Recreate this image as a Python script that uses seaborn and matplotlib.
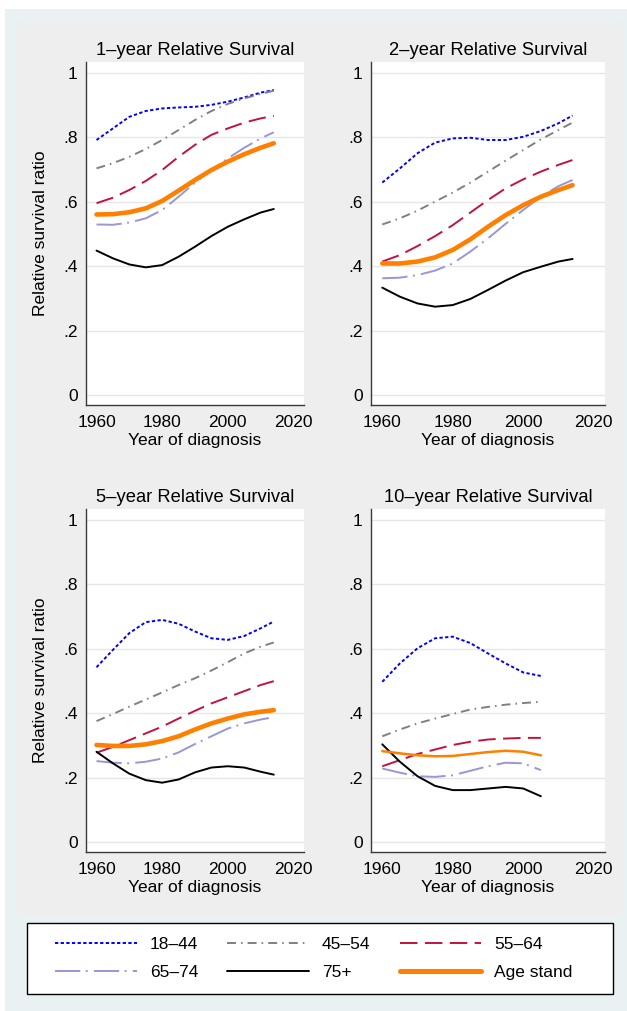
import matplotlib
matplotlib.use("Agg")
import numpy as np
import pandas as pd
import matplotlib.pyplot as plt
import seaborn as sns
from matplotlib.lines import Line2D
from matplotlib.patches import Rectangle

# ---------------- data ----------------
years_long = [1960, 1965, 1970, 1975, 1980, 1985, 1990, 1995, 2000, 2005, 2010, 2014]
years_short = [1960, 1965, 1970, 1975, 1980, 1985, 1990, 1995, 2000, 2005]

groups = ["18–44", "45–54", "55–64", "65–74", "75+", "Age stand"]
titles = ["1–year Relative Survival", "2–year Relative Survival",
          "5–year Relative Survival", "10–year Relative Survival"]
y_ticks = [0, 0.2, 0.4, 0.6, 0.8, 1.0]
y_tick_labels = ["0", ".2", ".4", ".6", ".8", "1"]
x_ticks = [1960, 1980, 2000, 2020]
x_tick_labels = ["1960", "1980", "2000", "2020"]

# 1-year
rs1_18_44 = [0.791, 0.827, 0.863, 0.881, 0.889, 0.892, 0.894, 0.900, 0.910, 0.923, 0.938, 0.946]
rs1_45_54 = [0.703, 0.719, 0.739, 0.763, 0.791, 0.822, 0.853, 0.881, 0.903, 0.920, 0.934, 0.944]
rs1_55_64 = [0.595, 0.612, 0.636, 0.664, 0.698, 0.739, 0.776, 0.807, 0.827, 0.845, 0.858, 0.866]
rs1_65_74 = [0.529, 0.528, 0.535, 0.548, 0.574, 0.615, 0.659, 0.698, 0.734, 0.767, 0.796, 0.815]
rs1_75p = [0.448, 0.424, 0.405, 0.396, 0.403, 0.429, 0.460, 0.493, 0.522, 0.545, 0.566, 0.577]
rs1_std = [0.560, 0.561, 0.567, 0.579, 0.602, 0.634, 0.667, 0.698, 0.724, 0.747, 0.767, 0.781]

# 2-year
rs2_18_44 = [0.659, 0.703, 0.750, 0.783, 0.796, 0.798, 0.791, 0.791, 0.801, 0.819, 0.843, 0.867]
rs2_45_54 = [0.529, 0.548, 0.572, 0.600, 0.628, 0.659, 0.693, 0.727, 0.760, 0.793, 0.822, 0.845]
rs2_55_64 = [0.414, 0.434, 0.462, 0.493, 0.527, 0.566, 0.605, 0.641, 0.669, 0.693, 0.714, 0.729]
rs2_65_74 = [0.362, 0.364, 0.372, 0.386, 0.408, 0.445, 0.486, 0.531, 0.574, 0.615, 0.648, 0.667]
rs2_75p = [0.333, 0.305, 0.284, 0.274, 0.279, 0.298, 0.326, 0.355, 0.381, 0.398, 0.414, 0.422]
rs2_std = [0.408, 0.408, 0.414, 0.427, 0.450, 0.483, 0.522, 0.558, 0.589, 0.615, 0.636, 0.651]

# 5-year
rs5_18_44 = [0.542, 0.596, 0.648, 0.682, 0.689, 0.677, 0.653, 0.632, 0.627, 0.639, 0.663, 0.684]
rs5_45_54 = [0.375, 0.397, 0.420, 0.442, 0.464, 0.487, 0.508, 0.532, 0.558, 0.585, 0.606, 0.619]
rs5_55_64 = [0.277, 0.295, 0.316, 0.337, 0.358, 0.383, 0.407, 0.430, 0.449, 0.468, 0.487, 0.499]
rs5_65_74 = [0.251, 0.246, 0.244, 0.249, 0.259, 0.278, 0.304, 0.328, 0.352, 0.368, 0.380, 0.387]
rs5_75p = [0.280, 0.244, 0.212, 0.192, 0.184, 0.194, 0.216, 0.231, 0.235, 0.231, 0.218, 0.209]
rs5_std = [0.301, 0.298, 0.298, 0.303, 0.313, 0.328, 0.349, 0.368, 0.383, 0.396, 0.404, 0.409]

# 10-year
rs10_18_44 = [0.497, 0.554, 0.601, 0.632, 0.637, 0.617, 0.585, 0.554, 0.526, 0.515]
rs10_45_54 = [0.328, 0.349, 0.368, 0.383, 0.397, 0.411, 0.419, 0.426, 0.431, 0.435]
rs10_55_64 = [0.235, 0.254, 0.273, 0.287, 0.301, 0.311, 0.318, 0.321, 0.323, 0.323]
rs10_65_74 = [0.228, 0.215, 0.204, 0.202, 0.207, 0.221, 0.235, 0.246, 0.244, 0.223]
rs10_75p = [0.303, 0.249, 0.204, 0.174, 0.161, 0.161, 0.166, 0.171, 0.166, 0.142]
rs10_std = [0.282, 0.275, 0.269, 0.266, 0.267, 0.273, 0.279, 0.283, 0.280, 0.269]

panel_series = [
    (years_long, [rs1_18_44, rs1_45_54, rs1_55_64, rs1_65_74, rs1_75p, rs1_std]),
    (years_long, [rs2_18_44, rs2_45_54, rs2_55_64, rs2_65_74, rs2_75p, rs2_std]),
    (years_long, [rs5_18_44, rs5_45_54, rs5_55_64, rs5_65_74, rs5_75p, rs5_std]),
    (years_short, [rs10_18_44, rs10_45_54, rs10_55_64, rs10_65_74, rs10_75p, rs10_std]),
]

# ---------------- styles ----------------
line_styles = {
    "18–44": dict(color="#0000FF", linestyle=(0, (1.7, 1.2)), lw=1.4),
    "45–54": dict(color="#808080", linestyle=(0, (4.6, 2.6, 0.8, 2.6)), lw=1.4),
    "55–64": dict(color="#C4123C", linestyle=(0, (9.0, 3.8)), lw=1.4),
    "65–74": dict(color="#9896D6", linestyle=(0, (13.0, 2.8, 1.0, 3.2)), lw=1.4),
    "75+": dict(color="#000000", linestyle="-", lw=1.4),
    "Age stand": dict(color="#FF8000", linestyle="-", lw=3.3),
}

sns.set_theme(style="white")
plt.rcParams["font.family"] = ["Liberation Sans", "DejaVu Sans"]
plt.rcParams["text.color"] = "black"
plt.rcParams["axes.labelcolor"] = "black"

FS = 12.5
W, H = 627, 1011
fig = plt.figure(figsize=(W / 100, H / 100), dpi=100, facecolor="white")

def frect(x0, y0, x1, y1, **kw):
    r = Rectangle((x0 / W, 1 - y1 / H), (x1 - x0) / W, (y1 - y0) / H,
                  transform=fig.transFigure, **kw)
    fig.add_artist(r)
    return r

frect(5, 9, 627, 1011, facecolor="#E9F1F3", edgecolor="none", zorder=-20)
frect(18, 22, 622, 915, facecolor="#EEEEEE", edgecolor="none", zorder=-15)
frect(27, 923, 613, 994, facecolor="white", edgecolor="black", lw=1.0, zorder=-10)

panel_px = [(86, 62, 304, 405), (371, 62, 605, 405),
            (86, 509, 304, 852), (371, 509, 605, 852)]

axes = []
for i, (x0, y0, x1, y1) in enumerate(panel_px):
    ax = fig.add_axes([x0 / W, 1 - y1 / H, (x1 - x0) / W, (y1 - y0) / H])
    axes.append(ax)
    yrs, series = panel_series[i]
    for g, vals in zip(groups, series):
        st = dict(line_styles[g])
        if i == 3 and g == "Age stand":
            st["lw"] = 1.8
        df = pd.DataFrame({"Year": yrs, "RS": vals})
        sns.lineplot(data=df, x="Year", y="RS", ax=ax, sort=False,
                     estimator=None, legend=False, **st)
    ax.set_facecolor("white")
    ax.set_xlim(1956.8, 2023.2)
    ax.set_ylim(-0.031, 1.033)
    ax.set_yticks(y_ticks)
    ax.set_yticklabels(y_tick_labels)
    ax.set_xticks(x_ticks)
    ax.set_xticklabels(x_tick_labels)
    ax.yaxis.grid(True, color="#E6E6E6", lw=1.0)
    ax.xaxis.grid(False)
    ax.set_axisbelow(True)
    for s in ["top", "right"]:
        ax.spines[s].set_visible(False)
    for s in ["left", "bottom"]:
        ax.spines[s].set_color("#3A3A3A")
        ax.spines[s].set_linewidth(1.0)
    ax.tick_params(axis="both", direction="out", length=4, width=1.0,
                   color="#3A3A3A", labelsize=FS, labelcolor="black", pad=2)
    ax.tick_params(axis="x", pad=3)
    ax.set_title(titles[i], fontsize=13.2, pad=5, color="black")
    ax.set_xlabel("Year of diagnosis", fontsize=FS, labelpad=2.5)
    if i % 2 == 0:
        ax.set_ylabel("Relative survival ratio", fontsize=FS, labelpad=11)
    else:
        ax.set_ylabel("")

# legend
handles = {g: Line2D([0], [0], **line_styles[g]) for g in groups}
handles["Age stand"] = Line2D([0], [0], color="#FF8000", lw=3.6)
order = ["18–44", "65–74", "45–54", "75+", "55–64", "Age stand"]
fig.legend([handles[g] for g in order], order, ncol=3, frameon=False,
           loc="center", bbox_to_anchor=(314 / W, 1 - 958.5 / H),
           fontsize=FS, handlelength=4.7, handletextpad=0.75,
           columnspacing=1.67, labelspacing=0.7)

fig.savefig("out.png", dpi=100, facecolor="white")
